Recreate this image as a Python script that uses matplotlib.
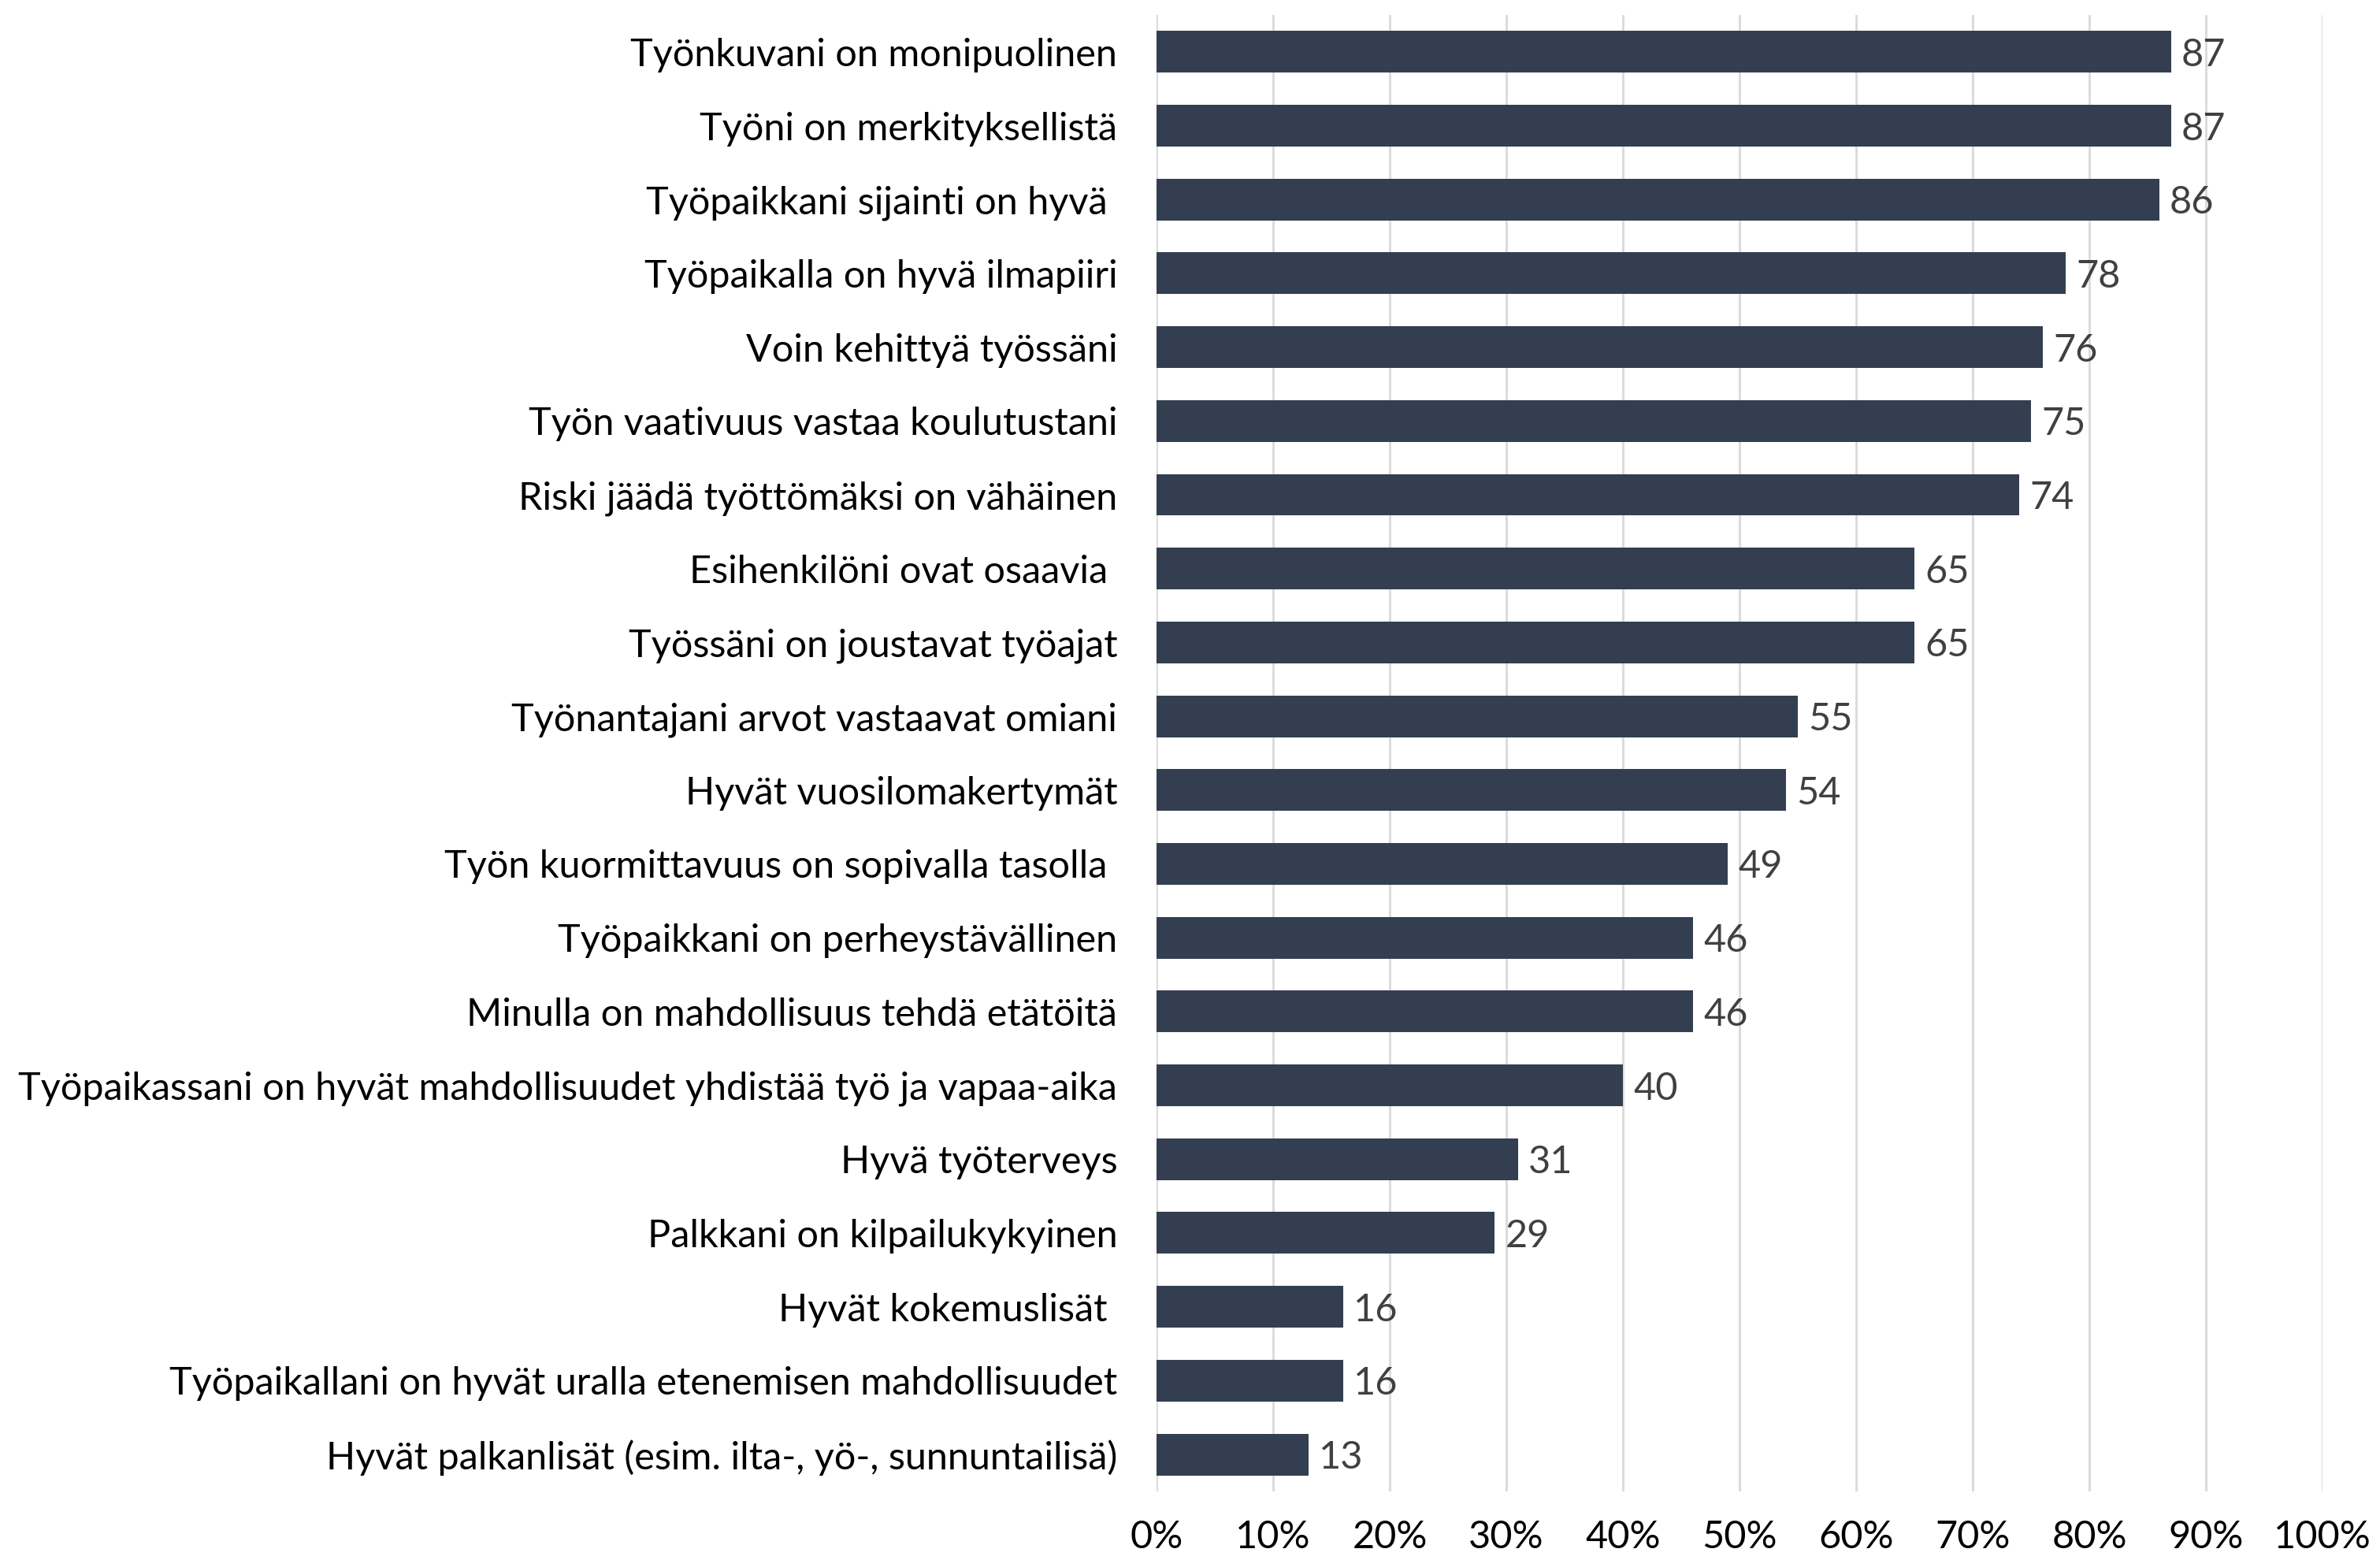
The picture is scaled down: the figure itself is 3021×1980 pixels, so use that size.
import matplotlib.pyplot as plt
from matplotlib.ticker import PercentFormatter

# survey statements, top to bottom, with share of respondents (%)
labels = [
    "Työnkuvani on monipuolinen",
    "Työni on merkityksellistä",
    "Työpaikkani sijainti on hyvä ",
    "Työpaikalla on hyvä ilmapiiri",
    "Voin kehittyä työssäni",
    "Työn vaativuus vastaa koulutustani",
    "Riski jäädä työttömäksi on vähäinen",
    "Esihenkilöni ovat osaavia ",
    "Työssäni on joustavat työajat",
    "Työnantajani arvot vastaavat omiani",
    "Hyvät vuosilomakertymät",
    "Työn kuormittavuus on sopivalla tasolla ",
    "Työpaikkani on perheystävällinen",
    "Minulla on mahdollisuus tehdä etätöitä",
    "Työpaikassani on hyvät mahdollisuudet yhdistää työ ja vapaa-aika",
    "Hyvä työterveys",
    "Palkkani on kilpailukykyinen",
    "Hyvät kokemuslisät ",
    "Työpaikallani on hyvät uralla etenemisen mahdollisuudet",
    "Hyvät palkanlisät (esim. ilta-, yö-, sunnuntailisä)",
]
values = [87, 87, 86, 78, 76, 75, 74, 65, 65, 55, 54, 49, 46, 46, 40, 31, 29, 16, 16, 13]

FS = 35
plt.rcParams['font.family'] = ['Lato', 'DejaVu Sans']

fig = plt.figure(figsize=(30.21, 19.80), dpi=100)
ax = fig.add_axes([0.486, 0.044, 0.4898, 0.9464])

y = range(len(labels))
ax.barh(y, values, height=0.565, color='#333F50', zorder=3)
for yi, v in zip(y, values):
    ax.text(v + 0.9, yi, str(v), va='center_baseline', ha='left',
            fontsize=FS, color='#404040')

ax.set_xlim(0, 100)
ax.set_ylim(len(labels) - 0.5, -0.5)
ax.set_yticks(list(y))
ax.set_yticklabels(labels, fontsize=FS)
ax.set_xticks(range(0, 101, 10))
ax.xaxis.set_major_formatter(PercentFormatter(decimals=0))
ax.tick_params(axis='x', labelsize=FS, length=0, pad=26)
ax.tick_params(axis='y', length=0, pad=36)
for lab in ax.get_yticklabels():
    lab.set_verticalalignment('center_baseline')
ax.grid(axis='x', color='#D9D9D9', linewidth=2, zorder=0)
for s in ax.spines.values():
    s.set_visible(False)

plt.savefig("out.png", dpi=100)
